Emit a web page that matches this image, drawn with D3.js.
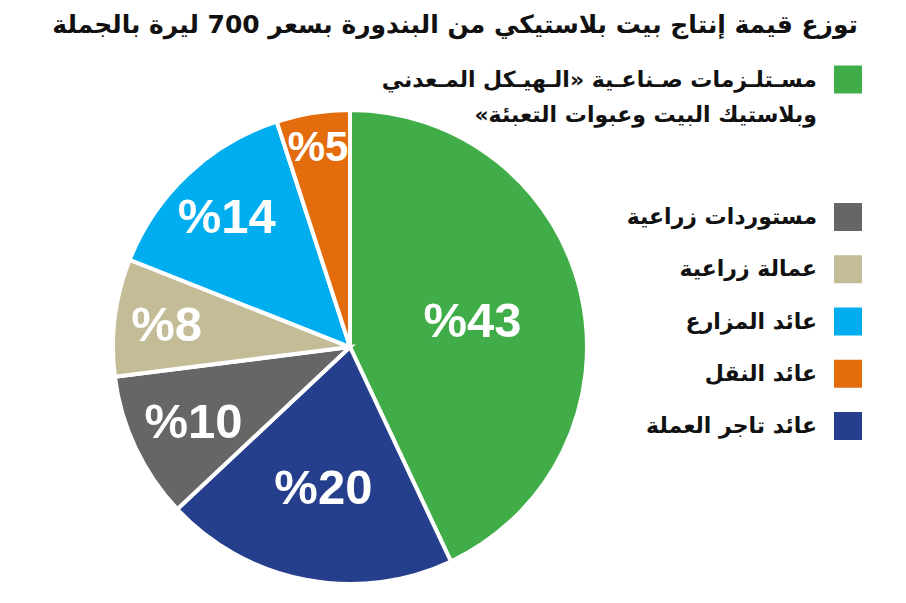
<!DOCTYPE html>
<html lang="ar">
<head>
<meta charset="UTF-8" />
<title>توزع قيمة إنتاج بيت بلاستيكي</title>
<script src="https://cdn.jsdelivr.net/npm/d3@7"></script>
<style>
body{margin:0;background:#fff}
svg{display:block}
.lbl{font-family:"Liberation Sans",Arial,sans-serif;font-weight:700;fill:#fff}
.leg{font-family:"DejaVu Sans",sans-serif;font-weight:700;fill:#111}
.ttl{font-family:"DejaVu Sans",sans-serif;font-weight:700;fill:#111}
</style>
</head>
<body>
<svg id="chart" width="906" height="603"></svg>
<script>
/* ===== data ===== */
const title='توزع قيمة إنتاج بيت بلاستيكي من البندورة بسعر 700 ليرة بالجملة';
// slices in clockwise order from 12 o'clock
const categories=['مستلزمات صناعية','عائد تاجر العملة','مستوردات زراعية','عمالة زراعية','عائد المزارع','عائد النقل'];
const values=[43,20,10,8,14,5];
const colors=['#40ad48','#263f8c','#666666','#c4bb97','#00aeef','#e36c0c'];
// legend order (indices into categories) and the lines shown for each
const legendOrder=[0,2,3,4,5,1];
const legendText=[
  ['مسـتلـزمات صـناعـية «الـهيـكل المـعدني','وبلاستيك البيت وعبوات التعبئة»'],
  ['مستوردات زراعية'],
  ['عمالة زراعية'],
  ['عائد المزارع'],
  ['عائد النقل'],
  ['عائد تاجر العملة']
];

/* ===== layout ===== */
const svg=d3.select('#chart');
const cx=350,cy=347,R=237;
const labelK=[0.53,0.6,0.73,0.78,0.76,0.86]; // label distance as share of radius

const pie=d3.pie().sort(null).value(d=>d)(values);
const arc=d3.arc().innerRadius(0).outerRadius(R);
const g=svg.append('g').attr('transform',`translate(${cx},${cy})`);

g.selectAll('path').data(pie).join('path')
  .attr('d',arc)
  .attr('fill',(d,i)=>colors[i])
  .attr('stroke','#fff').attr('stroke-width',4).attr('stroke-linejoin','miter');

g.selectAll('text').data(pie).join('text')
  .attr('class','lbl')
  .attr('text-anchor','middle')
  .attr('dy','0.36em')
  .attr('font-size',d=>d.value<6?42:49)
  .attr('transform',(d,i)=>{
    const r=R*labelK[i];
    const c=d3.arc().innerRadius(r).outerRadius(r).centroid(d);
    return `translate(${c[0]},${c[1]})`;
  })
  .text(d=>'%'+d.value);

/* ===== title ===== */
const t=svg.append('text').attr('class','ttl')
  .attr('x',858).attr('y',33).attr('text-anchor','start')
  .attr('direction','rtl').attr('font-size',28).text(title);
const tw=t.node().getComputedTextLength();
t.attr('font-size',28*806/tw);

/* ===== legend ===== */
const legY=d3.scalePoint().domain(d3.range(1,6)).range([217,426]);
const leg=svg.append('g');
legendOrder.forEach((k,j)=>{
  const yc=j===0?79.5:legY(j);
  leg.append('rect').attr('x',834).attr('y',yc-14).attr('width',28).attr('height',28)
    .attr('fill',colors[k]);
  legendText[j].forEach((line,li)=>{
    leg.append('text').attr('class','leg')
      .attr('x',817).attr('y',yc+7+li*35)
      .attr('direction','rtl').attr('text-anchor','start')
      .attr('font-size',22).text(line);
  });
});
</script>
</body>
</html>
